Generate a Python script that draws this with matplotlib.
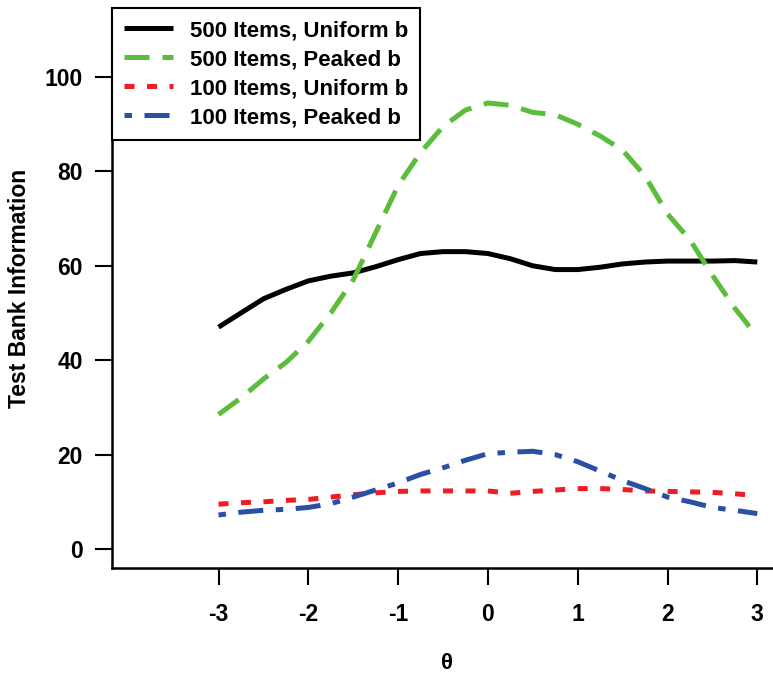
import matplotlib
matplotlib.use('Agg')
import matplotlib.pyplot as plt
import numpy as np

plt.rcParams['font.family'] = ['Liberation Sans', 'DejaVu Sans']
plt.rcParams['font.weight'] = 'bold'
plt.rcParams['axes.unicode_minus'] = False

# theta grid
theta = [-3, -2.75, -2.5, -2.25, -2, -1.75, -1.5, -1.25, -1, -0.75, -0.5, -0.25,
         0, 0.25, 0.5, 0.75, 1, 1.25, 1.5, 1.75, 2, 2.25, 2.5, 2.75, 3]

info_500_uniform = [47, 50, 53, 55, 56.8, 57.8, 58.5, 59.8, 61.3, 62.6, 63, 63,
                    62.6, 61.5, 60, 59.2, 59.2, 59.7, 60.4, 60.8, 61, 61, 61, 61.1, 60.8]
info_500_peaked = [28.5, 32, 36, 39.5, 44, 50, 57, 67, 77, 84, 89.5, 93,
                   94.5, 94, 92.5, 92, 90, 87.5, 84.5, 79, 71, 65.5, 58, 51, 45]
info_100_uniform = [9.5, 9.8, 10, 10.3, 10.5, 11, 11.5, 11.9, 12.2, 12.3, 12.3, 12.3,
                    12.3, 11.8, 12.2, 12.5, 12.8, 12.8, 12.6, 12.3, 12.2, 12.1, 12, 11.7, 11.3]
info_100_peaked = [7.2, 7.8, 8.2, 8.4, 8.8, 9.6, 11, 12.5, 14, 15.8, 17.2, 18.8,
                   20.2, 20.5, 20.7, 20.0, 18.5, 16.5, 14.5, 12.8, 11, 10, 8.8, 8.2, 7.5]

labels = ['500 Items, Uniform b', '500 Items, Peaked b',
          '100 Items, Uniform b', '100 Items, Peaked b']

fig = plt.figure(figsize=(7.73, 6.73), dpi=100)
ax = fig.add_axes([112/773, 105/673, 1 - 112/773, (568-8)/673])

lw = 3.6
ax.plot(theta, info_500_uniform, color='black', lw=lw, solid_capstyle='butt', label=labels[0])
ax.plot(theta, info_500_peaked, color='#5cbd3c', lw=lw, linestyle=(0, (5, 2.6)), label=labels[1])
ax.plot(theta, info_100_uniform, color='#ee1c25', lw=lw, linestyle=(0, (2, 2.5)), label=labels[2])
ax.plot(theta, info_100_peaked, color='#2b4fa5', lw=lw, linestyle=(0, (1.5, 2.5, 5, 2.5)), label=labels[3])

ax.set_xlim(-3 - 106.5/89.8, -3 + (773-218.5)/89.8)
ax.set_ylim(-(568-549)/4.72, (549-8)/4.72)
ax.set_xticks([-3, -2, -1, 0, 1, 2, 3])
ax.set_yticks([0, 20, 40, 60, 80, 100])
ax.tick_params(axis='both', length=12, width=1.5, labelsize=16.5)
ax.tick_params(axis='x', pad=13)
ax.tick_params(axis='y', pad=9)

for s in ['top', 'right']:
    ax.spines[s].set_visible(False)
for s in ['left', 'bottom']:
    ax.spines[s].set_linewidth(1.8)

ax.set_ylabel('Test Bank Information', fontsize=16.5, fontweight='bold')
ax.yaxis.set_label_coords(-0.122, 0.5)
ax.set_xlabel('θ', fontsize=16, fontweight='bold')
ax.xaxis.set_label_coords(0.507, -0.152)

leg = ax.legend(loc='upper left', bbox_to_anchor=(0, 1), borderaxespad=0,
                fontsize=16, frameon=True, fancybox=False, handlelength=2.2,
                handletextpad=0.75, labelspacing=0.36, borderpad=0.55)
leg.get_frame().set_edgecolor('black')
leg.get_frame().set_linewidth(1.5)
leg.get_frame().set_alpha(1)

plt.savefig('out.png', dpi=100)
